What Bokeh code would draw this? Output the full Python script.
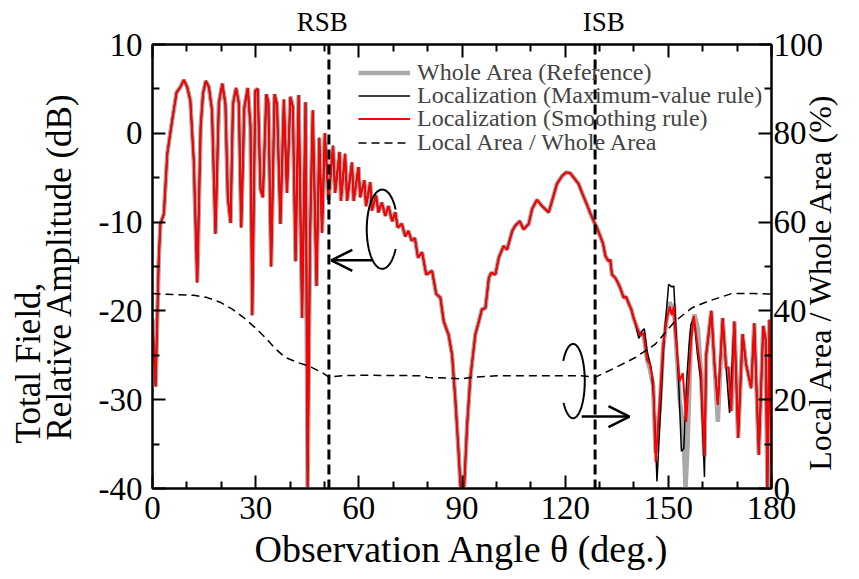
import numpy as np
from bokeh.plotting import figure
from bokeh.models import (Range1d, LinearAxis, FixedTicker, Span, Legend, Title,
                          LegendItem, Arrow, OpenHead)
from bokeh.embed import file_html
from bokeh.resources import INLINE

# ---------------- data ----------------
theta_common = [0.0, 0.9, 1.8, 2.3, 3.3, 4.3, 5.7, 7.0, 8.1, 9.1, 10.1, 11.0, 12.0, 13.0,
                14.0, 14.7, 15.5, 16.4, 17.3, 18.3, 19.3, 20.3, 21.2, 21.9, 22.7, 23.4,
                24.3, 25.1, 25.8, 26.7, 27.7, 28.5, 29.0, 29.9, 30.6, 31.4, 32.1, 33.1,
                33.7, 34.5, 35.5, 36.2, 37.2, 38.2, 39.1, 40.1, 40.8, 41.6, 42.5, 43.5,
                44.5, 45.1, 45.8, 46.6, 47.7, 48.5, 49.3, 50.1, 51.2, 52.5, 53.1, 54.4,
                54.8, 56.0, 56.6, 58.0, 58.5, 59.9, 60.4, 61.6, 62.1, 63.3, 63.8, 65.0,
                65.7, 66.7, 67.7, 68.6, 69.7, 70.6, 71.3, 72.5, 73.5, 74.4, 75.4, 76.3,
                77.2, 78.4, 79.6, 81.3, 82.5, 83.7, 84.7, 86.1, 87.1, 88.1, 89.0, 89.6,
                90.6, 91.5, 92.4, 93.9, 94.9, 95.8, 96.8, 97.8, 98.5, 99.7, 100.7, 102.1,
                103.1, 104.6, 105.5, 106.8, 107.9, 109.4, 110.4, 111.8, 113.3, 115.2,
                116.2, 117.6, 119.1, 120.3, 121.5, 122.9, 123.9, 125.0, 126.3, 127.3,
                128.3, 129.2, 130.2, 131.0, 131.7, 132.6, 133.1, 133.6, 134.6, 135.3,
                136.0, 137.0, 137.7, 138.5, 139.2, 139.9]
db_common = [-20.9, -28.5, -14.4, -10.2, -9.1, -2.3, 1.4, 4.6, 5.2, 6.0, 5.2, 3.7, -3.1, -16.8,
             0.7, 4.5, 5.9, 5.2, 2.6, -11.3, 3.4, 5.6, 3.3, -7.2, -10.1, 3.3,
             5.1, 3.4, -10.6, 2.9, 5.1, 0.7, -20.5, 4.8, 5.0, -6.3, -7.2, 4.4,
             3.5, -15.0, 4.4, 3.3, -10.2, 3.8, -6.7, 4.1, 3.0, -14.4, 4.3, -20.8,
             3.5, -40.0, -12.0, 2.6, -17.2, -0.5, -11.2, 0.0, -7.5, -1.4, -6.7, -2.1,
             -7.6, -2.3, -7.6, -3.3, -7.6, -3.8, -7.2, -5.3, -8.2, -5.5, -8.7, -7.0,
             -8.9, -7.8, -9.3, -8.2, -9.9, -8.9, -10.6, -10.2, -11.6, -11.0, -12.1, -11.8,
             -14.0, -13.4, -15.9, -15.5, -18.1, -18.5, -21.2, -22.7, -24.9, -30.2, -35.9, -40.0,
             -40.0, -32.8, -27.6, -22.6, -21.2, -19.8, -19.7, -16.3, -15.7, -15.9, -14.0, -12.7,
             -13.1, -11.0, -10.4, -9.9, -10.8, -10.2, -8.5, -7.5, -8.2, -8.9,
             -7.6, -5.7, -4.8, -4.4, -4.5, -5.2, -5.7, -6.8, -8.0, -9.0,
             -9.9, -10.6, -11.6, -12.4, -13.8, -14.4, -14.2, -15.9, -16.3, -16.8,
             -17.4, -18.5, -18.4, -19.2, -19.8, -20.8]

theta_tail_whole = [140.9, 141.9, 142.8, 143.8, 144.6, 145.6, 146.3, 147.5, 148.5, 149.5,
                    150.4, 151.0, 151.6, 151.9, 153.3, 154.3, 155.0, 155.6, 156.6, 157.6,
                    158.6, 159.5, 160.5, 161.0, 162.5, 163.4, 164.4, 165.8, 166.8, 167.5,
                    168.3, 169.2, 170.3, 171.6, 172.6, 174.1, 175.0, 176.3, 177.6, 178.3,
                    178.8, 179.4, 180.0]
db_tail_whole = [-21.9, -22.8, -22.5, -25.5, -26.5, -28.5, -36.0, -31.0, -24.0, -21.0,
                 -19.0, -20.0, -19.2, -21.5, -30.0, -33.0, -40.0, -35.0, -22.5, -20.4,
                 -22.0, -27.0, -36.4, -25.0, -20.0, -25.9, -32.5, -20.8, -26.4, -26.4,
                 -31.3, -21.2, -34.3, -22.6, -26.0, -28.7, -21.4, -36.2, -21.7, -23.2,
                 -40.0, -21.0, -40.0]

theta_tail_max = [140.5, 141.4, 142.3, 143.0, 143.8, 145.0, 145.8, 146.7, 147.5, 148.5,
                  149.1, 150.1, 151.0, 151.6, 152.2, 153.0, 153.8, 154.5, 155.3, 156.0,
                  156.6, 157.4, 158.5, 159.5, 160.5, 161.0, 162.5, 163.4, 164.4, 165.8,
                  166.8, 167.8, 169.2, 170.3, 171.6, 172.6, 174.1, 175.0, 176.3, 177.6,
                  178.3, 178.8, 179.4, 180.0]
db_tail_max = [-21.5, -23.1, -22.3, -22.0, -24.5, -26.4, -30.0, -39.2, -33.0, -25.0,
               -21.5, -17.0, -17.3, -17.2, -22.0, -28.0, -35.8, -35.5, -28.0, -24.0,
               -21.5, -20.8, -25.0, -28.0, -38.7, -25.0, -20.0, -25.9, -30.6, -20.8,
               -26.4, -31.5, -21.2, -34.3, -22.6, -26.0, -28.7, -21.4, -36.2, -21.7,
               -23.2, -40.0, -21.0, -40.0]

theta_tail_smooth = [140.9, 141.9, 142.8, 143.8, 144.6, 145.6, 146.3, 147.5, 148.5, 149.5,
                     150.4, 151.0, 151.6, 151.9, 153.3, 154.2, 155.2, 156.6, 157.4, 158.5,
                     159.5, 160.5, 161.0, 162.5, 163.4, 164.4, 165.8, 166.8, 167.5, 168.3,
                     169.2, 170.3, 171.6, 172.6, 174.1, 175.0, 176.3, 177.6, 178.3, 178.8,
                     179.4, 180.0]
db_tail_smooth = [-21.9, -22.8, -22.5, -25.5, -26.0, -27.9, -37.0, -30.2, -23.8, -21.0,
                  -19.5, -20.5, -19.5, -21.9, -27.9, -27.0, -32.5, -23.4, -20.6, -24.0,
                  -27.0, -36.4, -25.0, -20.0, -25.9, -30.6, -20.8, -26.4, -26.4, -31.3,
                  -21.2, -34.3, -22.6, -26.0, -28.7, -21.4, -36.2, -21.7, -23.2, -40.0,
                  -21.0, -40.0]

theta_ratio = [0.0, 12.0, 15.9, 19.8, 23.2, 26.5, 29.9, 32.8, 35.8, 38.7, 42.5, 45.4, 49.3,
               51.3, 55.1, 60.5, 78.4, 80.0, 88.0, 90.0, 92.4, 100.0, 124.4, 128.8, 134.6,
               140.4, 146.2, 152.0, 156.9, 161.7, 168.4, 175.0, 180.0]
pct_ratio = [43.9, 43.5, 43.0, 41.9, 40.4, 38.5, 36.2, 34.0, 31.4, 29.5, 28.3, 27.6, 26.1,
             25.1, 25.4, 25.5, 25.4, 25.0, 24.8, 24.7, 25.0, 25.4, 25.4, 25.1, 27.2,
             29.5, 32.5, 37.7, 40.7, 42.2, 43.9, 43.9, 43.8]

rsb_angle = 51.3
isb_angle = 128.7
boundary_label_pos = [49.35, 131.2]
boundary_labels = ["RSB", "ISB"]

x_major = [0, 30, 60, 90, 120, 150, 180]
x_minor = [10, 20, 40, 50, 70, 80, 100, 110, 130, 140, 160, 170]
x_labels = ["0", "30", "60", "90", "120", "150", "180"]
y_major = [-40, -30, -20, -10, 0, 10]
y_minor = [-35, -25, -15, -5, 5]
y_labels = ["-40", "-30", "-20", "-10", "0", "10"]
pct_major = [0, 20, 40, 60, 80, 100]
pct_minor = [10, 30, 50, 70, 90]
pct_labels = ["0", "20", "40", "60", "80", "100"]

right_title = "Local Area / Whole Area (%)"
right_title_start = 4.0    # the rotated right title starts at this % level (reads upward)

legend_labels = ["Whole Area (Reference)", "Localization (Maximum-value rule)",
                 "Localization (Smoothing rule)", "Local Area / Whole Area"]

# series assembled from shared segment + individual tails
theta_whole = theta_common + theta_tail_whole
db_whole = db_common + db_tail_whole
theta_max = theta_common + theta_tail_max
db_max = db_common + db_tail_max
theta_smooth = theta_common + theta_tail_smooth
db_smooth = db_common + db_tail_smooth

FONT = "Liberation Serif"
TICK_FS = "33px"
LABEL_FS = "35px"

# ---------------- figure ----------------
p = figure(width=859, height=579, x_range=Range1d(0, 180), y_range=Range1d(-40, 10),
           output_backend="svg", toolbar_location=None,
           x_axis_location=None, y_axis_location=None,
           min_border_left=152, min_border_right=87, min_border_top=44, min_border_bottom=91)
p.extra_y_ranges = {"pct": Range1d(0, 100)}
p.xgrid.visible = False
p.ygrid.visible = False
p.outline_line_color = "black"
p.outline_line_width = 2
p.background_fill_color = "white"
p.border_fill_color = "white"


def style_axis(ax, major, minor, labels, show=True):
    ax.ticker = FixedTicker(ticks=major, minor_ticks=minor)
    ax.major_label_overrides = {m: (l if show else "") for m, l in zip(major, labels)}
    ax.axis_line_width = 2
    ax.axis_line_color = "black"
    ax.major_tick_in = 13
    ax.major_tick_out = 0
    ax.minor_tick_in = 7
    ax.minor_tick_out = 0
    ax.major_tick_line_width = 2
    ax.minor_tick_line_width = 2
    ax.major_tick_line_color = "black"
    ax.minor_tick_line_color = "black"
    ax.major_label_text_font = FONT
    ax.major_label_text_font_size = TICK_FS
    ax.major_label_text_color = "black"
    ax.major_label_standoff = 8
    ax.axis_label_text_font = FONT
    ax.axis_label_text_font_size = LABEL_FS
    ax.axis_label_text_font_style = "normal"
    ax.axis_label_text_color = "black"


def label_only_axis(ax, positions, texts, size, standoff):
    ax.ticker = FixedTicker(ticks=positions, minor_ticks=[])
    ax.major_label_overrides = dict(zip(positions, texts))
    ax.axis_line_color = None
    ax.major_tick_line_color = None
    ax.minor_tick_line_color = None
    ax.major_tick_in = 0
    ax.major_tick_out = 0
    ax.minor_tick_in = 0
    ax.minor_tick_out = 0
    ax.major_label_text_font = FONT
    ax.major_label_text_font_size = size
    ax.major_label_text_color = "black"
    ax.major_label_standoff = standoff


ax_b = LinearAxis(axis_label="Observation Angle \u03b8 (deg.)")
style_axis(ax_b, x_major, x_minor, x_labels)
ax_b.axis_label_text_font_size = "38px"
ax_b.axis_label_standoff = 6
p.add_layout(ax_b, "below")

ax_t = LinearAxis()
style_axis(ax_t, x_major, x_minor, x_labels, show=False)
ax_t.major_label_text_font_size = "0px"
ax_t.major_label_standoff = 0
p.add_layout(ax_t, "above")

ax_sb = LinearAxis()
label_only_axis(ax_sb, boundary_label_pos, boundary_labels, "27px", 8)
p.add_layout(ax_sb, "above")

ax_l = LinearAxis(axis_label="Relative Amplitude (dB)")
style_axis(ax_l, y_major, y_minor, y_labels)
ax_l.major_label_standoff = 10
ax_l.axis_label_standoff = 17
p.add_layout(ax_l, "left")
p.add_layout(Title(text="Total Field,", align="left", offset=45, text_font=FONT,
                   text_font_size=LABEL_FS, text_font_style="normal",
                   text_color="black", standoff=-22), "left")

ax_r = LinearAxis(y_range_name="pct")
style_axis(ax_r, pct_major, pct_minor, pct_labels)
ax_r.major_label_standoff = 2
p.add_layout(ax_r, "right")

ax_rl = LinearAxis(y_range_name="pct")
label_only_axis(ax_rl, [right_title_start], [right_title], "32px", -6)
ax_rl.major_label_orientation = np.pi / 2
p.add_layout(ax_rl, "right")

r_whole = p.line(theta_whole, db_whole, line_color="#a9a9a9", line_width=4.5)
r_max = p.line(theta_max, db_max, line_color="black", line_width=1.5)
r_smooth = p.line(theta_smooth, db_smooth, line_color="#ff0000", line_width=2)
r_ratio = p.line(theta_ratio, pct_ratio, y_range_name="pct", line_color="black",
                 line_width=1.5, line_dash="8 5")

for ang in (rsb_angle, isb_angle):
    p.add_layout(Span(location=ang, dimension="height", line_color="black",
                      line_width=3, line_dash="10 5"))

# one legend per entry so that the row pitch matches the reference
legend_rows = [(legend_labels[0], r_whole, 401.6), (legend_labels[1], r_max, 378.6),
               (legend_labels[2], r_smooth, 355.6), (legend_labels[3], r_ratio, 331.6)]
for text, rend, vy in legend_rows:
    p.add_layout(Legend(items=[LegendItem(label=text, renderers=[rend])],
                        location=(206, vy), label_text_font=FONT,
                        label_text_font_size="24px", glyph_width=52, glyph_height=21,
                        label_height=21, spacing=0, padding=0, margin=0, label_standoff=7,
                        border_line_alpha=0, background_fill_alpha=0))

# ---------------- annotations ----------------
def ellipse_arc(cx, cy, a, b, t0, t1):
    t = np.radians(np.linspace(t0, t1, 120))
    return cx + a * np.cos(t), cy + b * np.sin(t)

ex, ey = ellipse_arc(66.8, -10.8, 4.5, 4.46, 30, 330)
p.line(ex, ey, line_color="black", line_width=2)
ex2, ey2 = ellipse_arc(122.3, -27.9, 3.4, 4.18, 216, 507)
p.line(ex2, ey2, line_color="black", line_width=2)

p.add_layout(Arrow(end=OpenHead(size=21, line_width=2.5, line_color="black"),
                   x_start=63.9, y_start=-14.3, x_end=52.0, y_end=-14.3,
                   line_width=2.5, line_color="black"))
p.add_layout(Arrow(end=OpenHead(size=21, line_width=2.5, line_color="black"),
                   x_start=124.8, y_start=-31.9, x_end=138.7, y_end=-31.9,
                   line_width=2.5, line_color="black"))

open("out.html", "w").write(file_html(p, INLINE))
